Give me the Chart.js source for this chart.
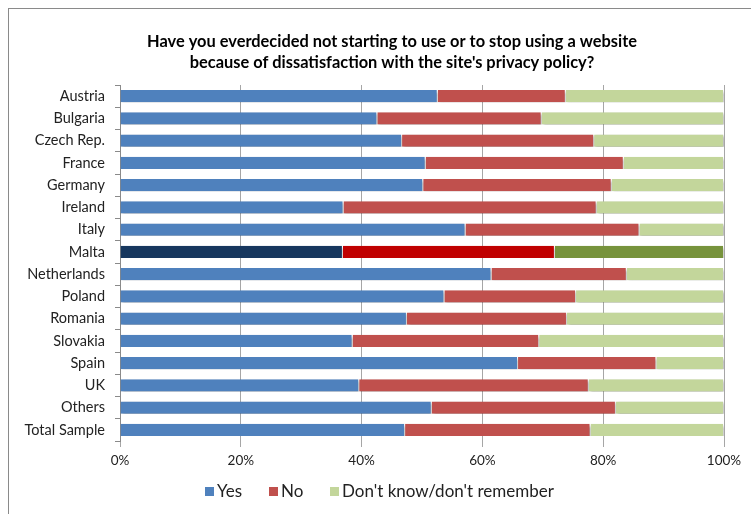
<!DOCTYPE html>
<html>
<head>
<meta charset="utf-8">
<script src="https://cdn.jsdelivr.net/npm/chart.js@4"></script>
<style>
  body { margin: 0; background: #fff; }
  #frame { position: absolute; left: 8px; top: 8px; width: 760px; height: 520px;
           border-left: 1px solid #8a8a8a; border-top: 1px solid #8a8a8a; }
  #wrap { position: absolute; left: 0; top: 0; width: 751px; height: 514px; }
</style>
</head>
<body>
<div id="frame"></div>
<div id="wrap"><canvas id="chart" width="751" height="514"></canvas></div>
<script>
// Donnees (en %)
const categories = ["Austria", "Bulgaria", "Czech Rep.", "France", "Germany", "Ireland", "Italy", "Malta",
  "Netherlands", "Poland", "Romania", "Slovakia", "Spain", "UK", "Others", "Total Sample"];
const yesValues = [52.6, 42.6, 46.7, 50.6, 50.2, 37.0, 57.2, 36.9, 61.5, 53.7, 47.5, 38.5, 65.9, 39.6, 51.6, 47.2];
const noValues = [21.2, 27.2, 31.8, 32.8, 31.2, 41.9, 28.8, 35.1, 22.4, 21.8, 26.5, 30.9, 22.9, 38.0, 30.5, 30.7];
const dkValues = [26.2, 30.2, 21.5, 16.6, 18.6, 21.1, 14.0, 28.0, 16.1, 24.5, 26.0, 30.6, 11.2, 22.4, 17.9, 22.1];
const xTicks = [0, 20, 40, 60, 80, 100];
const seriesNames = ["Yes", "No", "Don't know/don't remember"];
const titleLines = ["Have you everdecided not starting to use or to stop using a website",
  "because of dissatisfaction with the site's privacy policy?"];

const highlight = "Malta";
const baseColors = ["#4F81BD", "#C0504D", "#C3D69B"];
const hlColors = ["#17375E", "#C00000", "#77933C"];

const FONT = "Lato, 'Open Sans', sans-serif";

function colorsFor(i) {
  return categories.map(c => c === highlight ? hlColors[i] : baseColors[i]);
}

// Ombre sous les barres
const shadowPlugin = {
  id: "shadow",
  beforeDatasetsDraw(chart) {
    const ctx = chart.ctx;
    ctx.save();
    ctx.shadowColor = "rgba(0,0,0,0.4)";
    ctx.shadowBlur = 3;
    ctx.shadowOffsetX = 1;
    ctx.shadowOffsetY = 2;
  },
  afterDatasetsDraw(chart) {
    chart.ctx.restore();
  }
};

// Titre et legende
const textPlugin = {
  id: "texts",
  afterDraw(chart) {
    const ctx = chart.ctx;
    ctx.save();
    ctx.fillStyle = "#000";
    ctx.font = "bold 16.4px " + FONT;
    ctx.textAlign = "center";
    ctx.textBaseline = "middle";
    ctx.fillText(titleLines[0], 392, 42);
    ctx.fillText(titleLines[1], 392, 63);

    ctx.font = "17px " + FONT;
    ctx.textAlign = "left";
    const legendX = [205, 269, 330];
    seriesNames.forEach((name, i) => {
      ctx.fillStyle = baseColors[i];
      ctx.fillRect(legendX[i], 487, 9, 9);
      ctx.fillStyle = "#222";
      ctx.fillText(name, legendX[i] + 12, 492);
    });
    ctx.restore();
  }
};

const ds = (i, data) => ({
  label: seriesNames[i],
  data: data,
  backgroundColor: colorsFor(i),
  borderColor: "#ffffff",
  borderWidth: { top: 0, bottom: 0, left: 0, right: 1 },
  borderSkipped: false,
  barPercentage: 0.56,
  categoryPercentage: 1.0
});

new Chart(document.getElementById("chart"), {
  type: "bar",
  data: {
    labels: categories,
    datasets: [ds(0, yesValues), ds(1, noValues), ds(2, dkValues)]
  },
  options: {
    indexAxis: "y",
    responsive: false,
    animation: false,
    layout: { padding: { top: 85, right: 27, bottom: 0, left: 0 } },
    plugins: {
      legend: { display: false },
      title: { display: false },
      tooltip: { enabled: false }
    },
    scales: {
      x: {
        stacked: true,
        min: 0,
        max: 100,
        afterBuildTicks(scale) { scale.ticks = xTicks.map(v => ({ value: v })); },
        afterFit(scale) { scale.height = 73; },
        ticks: {
          callback: v => v + "%",
          font: { family: FONT, size: 13.5 },
          color: "#222",
          padding: 6
        },
        grid: { color: "#a6a6a6", tickLength: 6, drawTicks: true },
        border: { display: false }
      },
      y: {
        stacked: true,
        afterFit(scale) { scale.width = 120; },
        ticks: {
          font: { family: FONT, size: 14.5 },
          color: "#222",
          padding: 10
        },
        grid: { drawOnChartArea: false, offset: true, tickLength: 5, color: "#8a8a8a" },
        border: { display: true, color: "#8a8a8a" }
      }
    }
  },
  plugins: [shadowPlugin, textPlugin]
});
</script>
</body>
</html>
